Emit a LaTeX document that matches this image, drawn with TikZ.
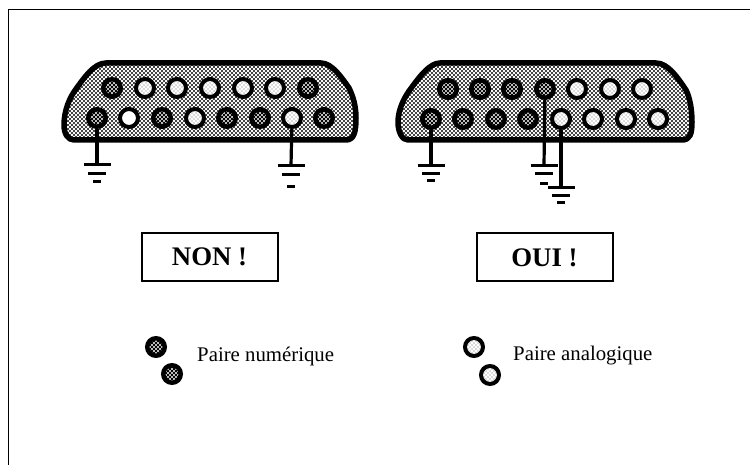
\documentclass[tikz,border=0pt]{standalone}
\usepackage{fontspec}
\setmainfont{Liberation Serif}
\usepackage{tikz}
\usetikzlibrary{
  patterns,
  positioning
}
% printed screen of the connector bodies and pins
\pgfdeclarepatternformonly{halftone}{\pgfqpoint{-1.5pt}{-1.5pt}}{\pgfqpoint{3.5pt}{3.5pt}}{\pgfqpoint{4pt}{4pt}}{
  \pgfpathcircle{\pgfqpoint{0pt}{0pt}}{1.2pt}
  \pgfpathcircle{\pgfqpoint{2pt}{2pt}}{1.2pt}
  \pgfusepath{fill}
}
\pgfdeclarepatternformonly{midscreen}{\pgfqpoint{-1.5pt}{-1.5pt}}{\pgfqpoint{3.5pt}{3.5pt}}{\pgfqpoint{4pt}{4pt}}{
  \pgfpathcircle{\pgfqpoint{0pt}{0pt}}{1.05pt}
  \pgfpathcircle{\pgfqpoint{2pt}{2pt}}{1.05pt}
  \pgfusepath{fill}
}
\pgfdeclarepatternformonly{lightscreen}{\pgfqpoint{-1pt}{-1pt}}{\pgfqpoint{3pt}{3pt}}{\pgfqpoint{4pt}{4pt}}{
  \pgfpathcircle{\pgfqpoint{0pt}{0pt}}{0.7pt}
  \pgfpathcircle{\pgfqpoint{2pt}{2pt}}{0.7pt}
  \pgfusepath{fill}
}
\tikzset{
  shell/.style      = {line width = 5.5pt, line join = round, preaction={fill=white}, pattern=halftone},
  pairnum/.style    = {circle, draw, line width = 4.5pt, preaction={fill=black}, pattern=midscreen, pattern color=white, minimum size = 17.5pt, inner sep = 0pt},
  pairana/.style    = {circle, draw, line width = 4pt, preaction={fill=white}, pattern=lightscreen, pattern color=black!60, minimum size = 18pt, inner sep = 0pt},
  pairnone/.style   = {circle, draw, line width = 4pt, fill=white, minimum size = 18pt, inner sep = 0pt},
  lead/.style       = {line width = 3.2pt},
  earthbar/.style   = {line width = 3pt},
  verdict/.style    = {draw, line width = 2pt, minimum width = 136pt, minimum height = 48pt, font=\fontsize{26.8}{30}\selectfont\bfseries},
  legend/.style     = {font=\fontsize{20.8}{24}\selectfont, inner sep = 0pt}
}
% one earth symbol below a named coordinate
\newcommand{\earth}[3]{
  \draw [earthbar] ([xshift=-13.5pt]#1) -- ([xshift=13.5pt]#1);
  \draw [earthbar] ([xshift=-9pt,yshift=-#2pt]#1) -- ([xshift=9pt,yshift=-#2pt]#1);
  \draw [earthbar] ([xshift=-4pt,yshift=-#3pt]#1) -- ([xshift=4pt,yshift=-#3pt]#1);
}
\begin{document}
\begin{tikzpicture}[x=1pt, y=-1pt]
  \useasboundingbox (0,0) rectangle (750,465);

  % Frame
  \draw [line width = 1pt] (8,465) -- (8,10) -- (750,10);

  % Left connector
  \draw [shell] (64,125) .. controls (64,110) and (70,97) .. (76,89) .. controls (84,78) and (94,63) .. (106,63) -- (321,63) .. controls (332,63) and (342,78) .. (349,88) .. controls (353,96) and (356,106) .. (356,118) .. controls (356,132) and (354,140) .. (346,140) -- (74,140) .. controls (68,140) and (64,134) .. (64,125) -- cycle;
  \foreach \n/\x/\s in {1/112/pairnum,2/145/pairana,3/177/pairana,4/210/pairana,5/243/pairana,6/275/pairana,7/308/pairnum}
    \node [\s] (la\n) at (\x,88) {};
  \foreach \n/\x/\s in {1/97/pairnum,2/129/pairnone,3/162/pairnum,4/195/pairana,5/227/pairnum,6/260/pairnum,7/292/pairana,8/324/pairnum}
    \node [\s] (lb\n) at (\x,118) {};

  % Right connector
  \draw [shell] (398,122) .. controls (398,110) and (404,97) .. (412,87) .. controls (420,76) and (430,63) .. (440,63) -- (656,63) .. controls (668,63) and (678,78) .. (686,90) .. controls (690,98) and (692,110) .. (692,122) .. controls (692,134) and (690,140) .. (682,140) -- (408,140) .. controls (402,140) and (398,132) .. (398,122) -- cycle;
  \foreach \n/\x/\s in {1/448/pairnum,2/480/pairnum,3/512/pairnum,4/545/pairnum,5/577/pairana,6/610/pairana,7/642/pairana}
    \node [\s] (ra\n) at (\x,89) {};
  \foreach \n/\x/\s in {1/431/pairnum,2/463/pairnum,3/496/pairnum,4/528/pairnum,5/561/pairana,6/593/pairana,7/626/pairana,8/658/pairana}
    \node [\s] (rb\n) at (\x,119) {};

  % Earth leads
  \coordinate (g1) at (97,165);
  \coordinate (g2) at (291,166);
  \coordinate (g3) at (431,166);
  \coordinate (g4) at (544,166);
  \coordinate (g5) at (561,188);
  \draw [lead] (lb1) -- (g1);
  \draw [lead] (lb7) -- (g2);
  \draw [lead] (rb1) -- (g3);
  \draw [lead] (ra4) -- (g4);
  \draw [lead] (rb5) -- (g5);
  \earth{g1}{9}{17}
  \earth{g2}{9}{21}
  \earth{g3}{8}{15}
  \earth{g4}{8}{18}
  \earth{g5}{8}{15}

  % Verdicts
  \node [verdict] (non) at (209.5,257) {NON !};
  \node [verdict] (oui) at (544.5,257.5) {OUI !};

  % Legend
  \node [pairnum] (num1) at (156,347) {};
  \node [pairnum] (num2) at (172,374) {};
  \node [legend, anchor=west] (numtext) at (197,356) {Paire numérique};
  \node [pairana] (ana1) at (474,347) {};
  \node [pairana] (ana2) at (490,375) {};
  \node [legend, anchor=west] (anatext) at (513,356) {Paire analogique};
\end{tikzpicture}
\end{document}
